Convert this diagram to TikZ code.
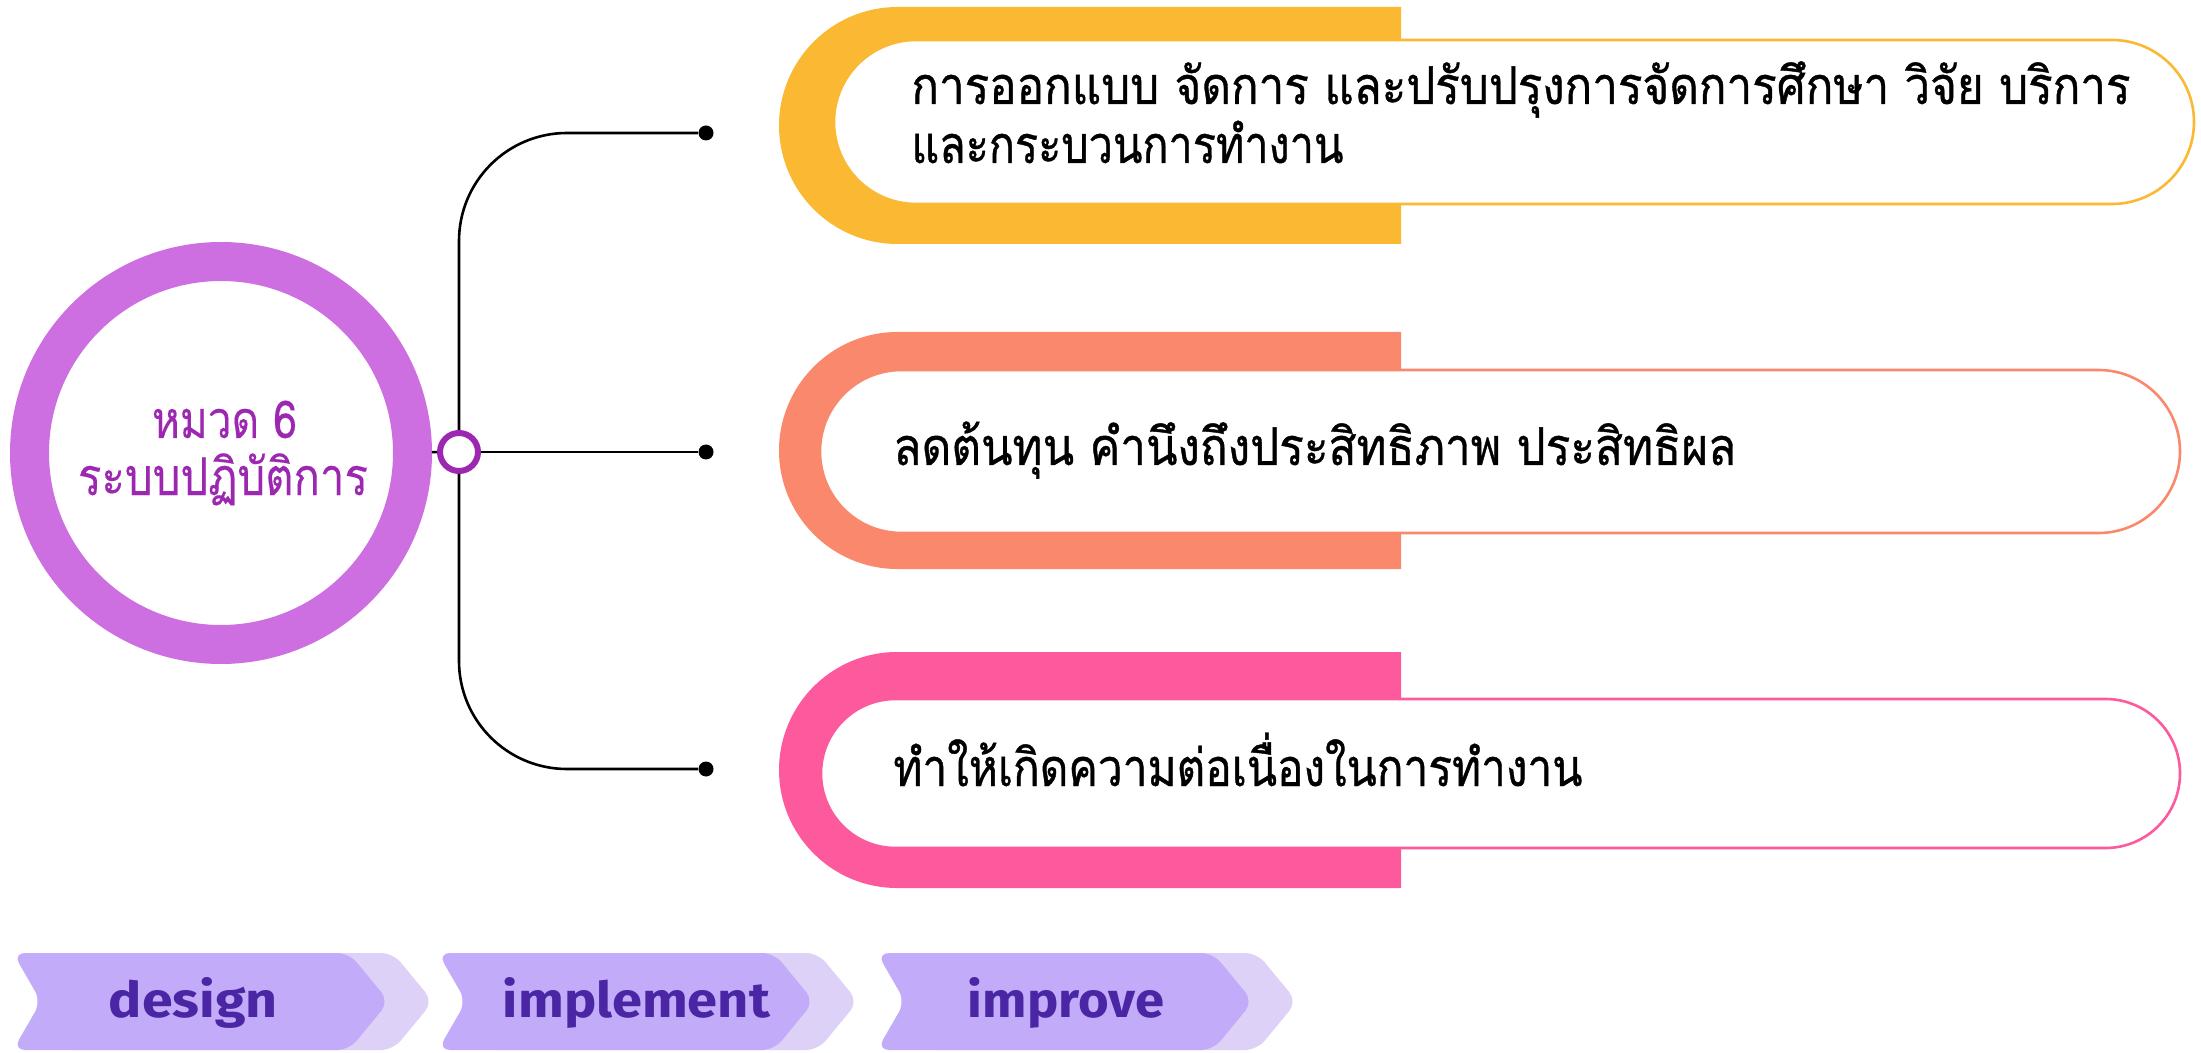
\documentclass[tikz,border=0pt]{standalone}
\usepackage{fontspec}
\newfontfamily\thaifont[Script=Thai, FakeBold=0.8]{Loma}
\newfontfamily\thaiplain[Script=Thai, FakeBold=0.3]{Loma}
\newfontfamily\labelfont{Fira Sans}
\definecolor{pyellow}{HTML}{FBB833}
\definecolor{psalmon}{HTML}{FA886C}
\definecolor{ppink}{HTML}{FC5A9C}
\definecolor{ringc}{HTML}{CD6FE0}
\definecolor{ctext}{HTML}{9C27B0}
\definecolor{chevfront}{HTML}{C2ACFA}
\definecolor{chevback}{HTML}{DDD1F8}
\definecolor{chevtext}{HTML}{4B26A4}
\begin{document}
\begin{tikzpicture}[x=0.5pt,y=0.5pt,
  thaitext/.style={inner sep=0pt, font=\thaifont\fontsize{26}{30}\selectfont},
  ringtext/.style={inner sep=0pt, text=ctext, anchor=base, font=\thaiplain\fontsize{26}{30}\selectfont},
  wire/.style={line width=1.3pt, black},
  enddot/.style={circle, fill=black, minimum size=7.5pt, inner sep=0pt},
  pill/.style={line width=1.3pt, fill=white}]
\useasboundingbox (0,0) rectangle (2201,-1053);

% coloured backdrops with the white pills on top
\fill[pyellow] (1401,-7) -- (897.5,-7) arc[start angle=90,end angle=270,radius=118.5] -- (1401,-244) -- cycle;
\draw[pill, draw=pyellow, rounded corners=41pt] (834,-40) rectangle (2194,-204);

\fill[psalmon] (1401,-332) -- (897.5,-332) arc[start angle=90,end angle=270,radius=118.5] -- (1401,-569) -- cycle;
\draw[pill, draw=psalmon, rounded corners=40.75pt] (820,-370) rectangle (2180,-533);

\fill[ppink] (1401,-652) -- (897,-652) arc[start angle=90,end angle=270,radius=118] -- (1401,-888) -- cycle;
\draw[pill, draw=ppink, rounded corners=37.25pt] (821,-699) rectangle (2180,-848);

% panel texts
\node[thaitext, anchor=base west] (t1a) at (911,-104)
  {\resizebox{609.5pt}{\height}{การออกแบบ จัดการ และปรับปรุงการจัดการศึกษา วิจัย บริการ}};
\node[thaitext, anchor=base west] (t1b) at (911,-163)
  {\resizebox{216pt}{\height}{และกระบวนการทำงาน}};
\node[thaitext, anchor=base west] (t2) at (893,-465)
  {\resizebox{421.5pt}{\height}{ลดต้นทุน คำนึงถึงประสิทธิภาพ ประสิทธิผล}};
\node[thaitext, anchor=base west] (t3) at (893,-786)
  {\resizebox{344.5pt}{\height}{ทำให้เกิดความต่อเนื่องในการทำงาน}};

% central ring
\node[circle, draw=ringc, line width=19.5pt, minimum size=191.5pt, inner sep=0pt] (main) at (221,-453) {};
\node[ringtext] (c1) at (224.5,-438) {\resizebox{72.5pt}{\height}{หมวด 6}};
\node[ringtext] (c2) at (223,-495) {\resizebox{145pt}{\height}{ระบบปฏิบัติการ}};

% branch hub and end dots
\node[circle, draw=ctext, line width=3pt, fill=white, minimum size=19pt, inner sep=0pt] (hub) at (459,-452) {};
\node[enddot] (d1) at (706,-133) {};
\node[enddot] (d2) at (706,-452) {};
\node[enddot] (d3) at (706,-769) {};

\draw[wire, rounded corners=54pt] (d1) -| (hub);
\draw[wire, rounded corners=54pt] (d3) -| (hub);
\draw[wire] (hub) -- (d2);
\draw[wire] (main) -- (hub);

% process chevrons
\foreach \L/\cx/\w/\word [count=\i] in {13/193.5/84.5/design, 438/636.5/133.5/implement, 877/1066/98/improve} {
  \fill[chevback, rounded corners=6pt] (\L+44,-953) -- ++(336,0) -- ++(40,-48.5) -- ++(-40,-48.5) -- ++(-336,0) -- ++(28,48.5) -- cycle;
  \fill[chevfront, rounded corners=6pt] (\L,-953) -- ++(336,0) -- ++(40,-48.5) -- ++(-40,-48.5) -- ++(-336,0) -- ++(28,48.5) -- cycle;
  \node[inner sep=0pt, anchor=base, text=chevtext] (lab\i) at (\cx,-1017)
    {\resizebox{\w pt}{20pt}{\labelfont\bfseries \word}};
}
\end{tikzpicture}
\end{document}
